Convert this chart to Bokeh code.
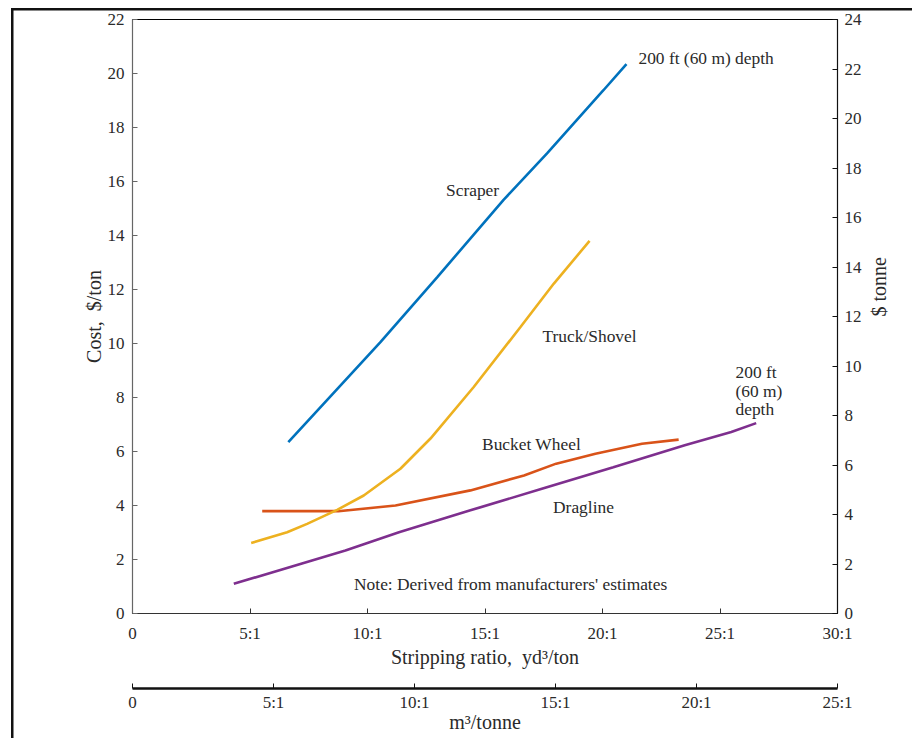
import math
from bokeh.plotting import figure
from bokeh.models import Range1d, LinearAxis, FixedTicker, ColumnDataSource
from bokeh.core.properties import value
from bokeh.embed import file_html
from bokeh.resources import INLINE

# ---- data ----
ratio_ticks = [0, 5, 10, 15, 20, 25, 30]
ratio_labels = ["0", "5:1", "10:1", "15:1", "20:1", "25:1", "30:1"]
metric_ticks = [0, 5, 10, 15, 20, 25]
metric_labels = ["0", "5:1", "10:1", "15:1", "20:1", "25:1"]
cost_ticks = [0, 2, 4, 6, 8, 10, 12, 14, 16, 18, 20, 22]
tonne_ticks = [0, 2, 4, 6, 8, 10, 12, 14, 16, 18, 20, 22, 24]

scraper_x = [6.63, 8.13, 10.55, 12.97, 15.79, 17.65, 20.04, 21.02]
scraper_y = [6.35, 7.76, 10.05, 12.46, 15.32, 17.05, 19.38, 20.35]

truck_x = [5.05, 6.58, 7.43, 8.71, 9.84, 11.40, 12.68, 14.52, 16.51, 17.93, 19.45]
truck_y = [2.61, 3.01, 3.32, 3.84, 4.37, 5.36, 6.48, 8.39, 10.61, 12.22, 13.80]

bucket_x = [5.52, 8.76, 11.19, 14.38, 16.66, 18.03, 19.70, 21.68, 23.24]
bucket_y = [3.79, 3.79, 4.00, 4.56, 5.11, 5.55, 5.92, 6.29, 6.44]

drag_x = [4.31, 9.06, 11.34, 14.38, 17.42, 20.46, 23.50, 25.48, 26.54]
drag_y = [1.10, 2.33, 3.01, 3.82, 4.62, 5.42, 6.23, 6.72, 7.05]

center_texts = ["Scraper", "Truck/Shovel", "Bucket Wheel", "Dragline",
                "Note: Derived from manufacturers' estimates"]
center_x = [14.47, 19.45, 16.98, 19.19, 16.09]
center_y = [15.68, 10.27, 6.26, 3.93, 1.11]

left_texts = ["200 ft (60 m) depth", "200 ft", "(60 m)", "depth"]
left_x = [21.53, 25.66, 25.66, 25.66]
left_y = [20.57, 8.93, 8.24, 7.56]

FONT = "Liberation Serif"
BLUE, ORANGE, YELLOW, PURPLE = "#0072BD", "#D95319", "#EDB120", "#7E2F8E"
TXT = "#2a2a2a"

p = figure(width=912, height=738, output_backend="svg", toolbar_location=None,
           x_range=Range1d(0, 30), y_range=Range1d(0, 22),
           min_border_left=132, min_border_right=75, min_border_top=19,
           min_border_bottom=125)
p.extra_y_ranges = {"tonne": Range1d(0, 24)}
p.extra_x_ranges = {"metric": Range1d(0, 25)}
p.xgrid.visible = False
p.ygrid.visible = False
p.outline_line_color = "black"
p.outline_line_width = 1
p.background_fill_color = "white"
p.border_fill_color = None
p.styles = {
    "background-color": "white",
    "background-image": "linear-gradient(#111, #111), linear-gradient(#111, #111)",
    "background-size": "2.5px 100%, 100% 2.5px",
    "background-position": "11px 8px, 11px 8px",
    "background-repeat": "no-repeat",
}

def style_axis(ax, line_color):
    ax.axis_line_color = line_color
    ax.axis_line_width = 1.2
    ax.major_tick_line_color = line_color
    ax.major_tick_in = 5
    ax.major_tick_out = 0
    ax.minor_tick_line_color = None
    ax.major_label_text_font = FONT
    ax.major_label_text_font_size = "17px"
    ax.major_label_text_color = TXT
    ax.axis_label_text_font = FONT
    ax.axis_label_text_font_size = "20px"
    ax.axis_label_text_font_style = "normal"
    ax.axis_label_text_color = TXT

xa = p.xaxis[0]
style_axis(xa, "#333333")
xa.ticker = FixedTicker(ticks=ratio_ticks)
xa.major_label_overrides = {t: l for t, l in zip(ratio_ticks, ratio_labels)}
xa.axis_label = "Stripping ratio,\u00a0 yd³/ton"
xa.major_label_standoff = 10
xa.axis_label_standoff = 0

ya = p.yaxis[0]
style_axis(ya, "#666666")
ya.ticker = FixedTicker(ticks=cost_ticks)
ya.axis_label = "Cost,\u00a0 $/ton"
ya.major_label_standoff = 8
ya.axis_label_standoff = 0

ra = LinearAxis(y_range_name="tonne")
style_axis(ra, "#111111")
ra.ticker = FixedTicker(ticks=tonne_ticks)
ra.axis_label = "$ tonne"
ra.axis_label_orientation = math.pi / 2
ra.major_label_standoff = 7
ra.axis_label_standoff = 14
p.add_layout(ra, "right")

spacer = LinearAxis(ticker=FixedTicker(ticks=[]), axis_line_color=None,
                    major_tick_line_color=None, minor_tick_line_color=None,
                    axis_label="\u00a0", axis_label_text_font_size="13px",
                    axis_label_standoff=0, major_label_standoff=0)
p.add_layout(spacer, "below")

ma = LinearAxis(x_range_name="metric")
style_axis(ma, "#111111")
ma.axis_line_width = 2.5
ma.ticker = FixedTicker(ticks=metric_ticks)
ma.major_label_overrides = {t: l for t, l in zip(metric_ticks, metric_labels)}
ma.axis_label = "m³/tonne"
ma.major_label_standoff = 4
ma.axis_label_standoff = -4
p.add_layout(ma, "below")

for xs, ys, c in [(drag_x, drag_y, PURPLE), (bucket_x, bucket_y, ORANGE),
                  (truck_x, truck_y, YELLOW), (scraper_x, scraper_y, BLUE)]:
    p.line(xs, ys, line_color=c, line_width=2.6)

src_c = ColumnDataSource(dict(x=center_x, y=center_y, t=center_texts))
p.text(x="x", y="y", text="t", source=src_c, text_font=value(FONT),
       text_font_size="17.4px", text_align="center", text_baseline="middle",
       text_color=TXT)
src_l = ColumnDataSource(dict(x=left_x, y=left_y, t=left_texts))
p.text(x="x", y="y", text="t", source=src_l, text_font=value(FONT),
       text_font_size="17.4px", text_align="left", text_baseline="middle",
       text_color=TXT)

open("out.html", "w").write(file_html(p, INLINE))
